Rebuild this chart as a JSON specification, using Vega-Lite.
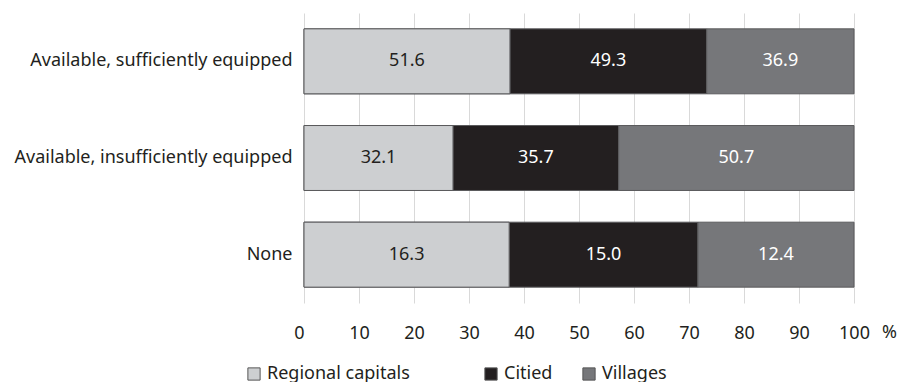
{
  "$schema": "https://vega.github.io/schema/vega-lite/v6.json",
  "width": 550,
  "height": 290,
  "autosize": {"type": "none"},
  "padding": {"left": 304, "top": 13, "right": 45, "bottom": 79},
  "background": "white",
  "config": {
    "font": "Noto Sans",
    "view": {"stroke": null},
    "axis": {"labelColor": "#231f20", "labelFontSize": 18, "titleColor": "#231f20"},
    "legend": {
      "title": null, "orient": "none", "direction": "horizontal", "legendY": 352,
      "symbolType": "square", "symbolSize": 150, "symbolStrokeColor": "#555555", "symbolStrokeWidth": 1,
      "labelFontSize": 18, "labelColor": "#231f20", "columnPadding": 29, "labelOffset": 4, "labelLimit": 400
    }
  },
  "data": {
    "values": [
      {"cat": "Available, sufficiently equipped", "series": "Regional capitals", "k": 1, "value": 51.6},
      {"cat": "Available, sufficiently equipped", "series": "Citied", "k": 2, "value": 49.3},
      {"cat": "Available, sufficiently equipped", "series": "Villages", "k": 3, "value": 36.9},
      {"cat": "Available, insufficiently equipped", "series": "Regional capitals", "k": 1, "value": 32.1},
      {"cat": "Available, insufficiently equipped", "series": "Citied", "k": 2, "value": 35.7},
      {"cat": "Available, insufficiently equipped", "series": "Villages", "k": 3, "value": 50.7},
      {"cat": "None", "series": "Regional capitals", "k": 1, "value": 16.3},
      {"cat": "None", "series": "Citied", "k": 2, "value": 15.0},
      {"cat": "None", "series": "Villages", "k": 3, "value": 12.4}
    ]
  },
  "transform": [
    {"stack": "value", "groupby": ["cat"], "offset": "normalize", "sort": [{"field": "k", "order": "ascending"}], "as": ["x0", "x1"]}
  ],
  "encoding": {
    "y": {
      "field": "cat", "type": "nominal",
      "sort": ["Available, sufficiently equipped", "Available, insufficiently equipped", "None"],
      "scale": {"paddingInner": 0.328, "paddingOuter": 0.164},
      "axis": {"title": null, "ticks": false, "domain": false, "labelPadding": 12, "grid": false, "labelLimit": 400}
    },
    "x": {
      "field": "x0", "type": "quantitative",
      "scale": {"domain": [0, 1], "nice": false},
      "axis": {
        "title": "%", "values": [0, 0.1, 0.2, 0.3, 0.4, 0.5, 0.6, 0.7, 0.8, 0.9, 1],
        "labelExpr": "round(datum.value*100)", "grid": true, "gridColor": "#d9d9d9", "gridWidth": 1,
        "domain": false, "ticks": false, "labelPadding": 21, "labelFlush": false,
        "labelAlign": {"condition": {"test": "datum.value == 0", "value": "right"}, "value": "center"},
        "titleX": 585, "titleY": 29, "titleAlign": "center", "titleBaseline": "middle",
        "titleFontWeight": "normal", "titleFontSize": 18
      }
    },
    "x2": {"field": "x1"}
  },
  "layer": [
    {
      "mark": {"type": "bar", "stroke": "#5a5a5c", "strokeWidth": 1},
      "encoding": {
        "color": {
          "field": "series", "type": "nominal",
          "scale": {"domain": ["Regional capitals", "Citied", "Villages"], "range": ["#cdcfd1", "#231f20", "#76777a"]},
          "legend": {"values": ["Citied", "Villages"], "legendX": 178, "columnPadding": 27}
        }
      }
    },
    {
      "transform": [{"filter": "datum.series === 'Regional capitals'"}],
      "mark": {"type": "bar", "stroke": "#5a5a5c", "strokeWidth": 1},
      "encoding": {
        "fill": {
          "field": "series", "type": "nominal",
          "scale": {"domain": ["Regional capitals"], "range": ["#cdcfd1"]},
          "legend": {"legendX": -59}
        }
      }
    },
    {
      "transform": [{"fold": ["x0", "x1"], "as": ["edge", "pos"]}],
      "mark": {"type": "text", "fontSize": 18, "align": "center", "baseline": "middle"},
      "encoding": {
        "x": {"aggregate": "mean", "field": "pos", "type": "quantitative"},
        "x2": null,
        "detail": {"field": "series"},
        "text": {"aggregate": "mean", "field": "value", "type": "quantitative", "format": ".1f"},
        "color": {
          "condition": {"test": "datum.series === 'Regional capitals'", "value": "#231f20"},
          "value": "#ffffff"
        }
      }
    }
  ]
}
